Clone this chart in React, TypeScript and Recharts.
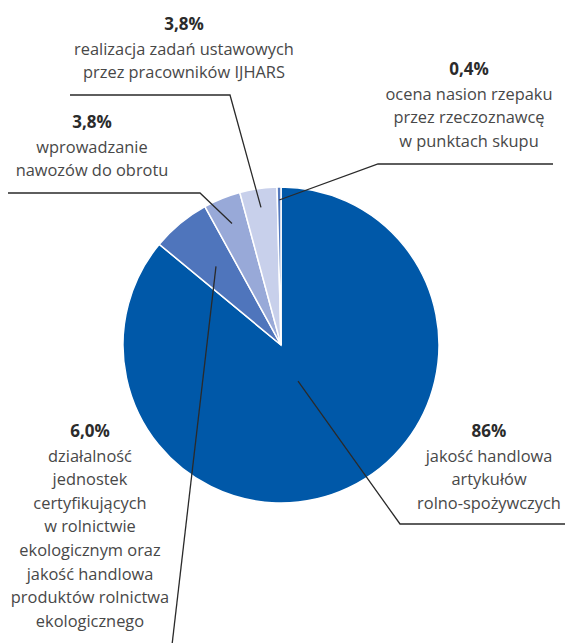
import { PieChart, Pie, Cell } from "recharts"

// shares of controls (%), clockwise from 12 o'clock
const categories = [
  "jakość handlowa artykułów rolno-spożywczych",
  "działalność jednostek certyfikujących w rolnictwie ekologicznym oraz jakość handlowa produktów rolnictwa ekologicznego",
  "wprowadzanie nawozów do obrotu",
  "realizacja zadań ustawowych przez pracowników IJHARS",
  "ocena nasion rzepaku przez rzeczoznawcę w punktach skupu",
]
const shares = [86, 6.0, 3.8, 3.8, 0.4]
const shareLabels = ["86%", "6,0%", "3,8%", "3,8%", "0,4%"]
const labelLines = [
  ["jakość handlowa", "artykułów", "rolno-spożywczych"],
  ["działalność", "jednostek", "certyfikujących", "w rolnictwie", "ekologicznym oraz", "jakość handlowa", "produktów rolnictwa", "ekologicznego"],
  ["wprowadzanie", "nawozów do obrotu"],
  ["realizacja zadań ustawowych", "przez pracowników IJHARS"],
  ["ocena nasion rzepaku", "przez rzeczoznawcę", "w punktach skupu"],
]
const colors = ["#0058a8", "#4f75bc", "#98a9d8", "#c8d0eb", "#5479be"]

// label placement, relative to the pie centre
const labelLayout = [
  { r: 40, elbow: [119, 179], end: [290, 179], tx: 208, ty: 92 },
  { r: 102, elbow: null, end: [-109, 300], tx: -191, ty: 92 },
  { r: 131, elbow: [-81, -152], end: [-273, -152], tx: -189, ty: -217 },
  { r: 139, elbow: [-51, -250], end: [-211, -250], tx: -97, ty: -315 },
  { r: 145, elbow: [97, -181], end: [272, -181], tx: 188, ty: -270 },
]

const data = categories.map((name, i) => ({ name, value: shares[i] }))

const FONT = "'Open Sans', 'Noto Sans', sans-serif"
const RAD = Math.PI / 180

function SliceLabel(props: any) {
  const { cx, cy, midAngle, index } = props
  const l = labelLayout[index]
  const sx = cx + l.r * Math.cos(-midAngle * RAD)
  const sy = cy + l.r * Math.sin(-midAngle * RAD)
  const pts = [[sx, sy]]
  if (l.elbow) pts.push([cx + l.elbow[0], cy + l.elbow[1]])
  pts.push([cx + l.end[0], cy + l.end[1]])
  const tx = cx + l.tx
  const ty = cy + l.ty
  return (
    <g>
      <polyline
        points={pts.map((p) => p.join(",")).join(" ")}
        fill="none"
        stroke="#2a2a2a"
        strokeWidth={1.3}
      />
      <text x={tx} y={ty} textAnchor="middle" fontFamily={FONT} fontSize={17} fontWeight={700} fill="#2b2b2b">
        {shareLabels[index]}
      </text>
      {labelLines[index].map((line, j) => (
        <text
          key={j}
          x={tx}
          y={ty + 24.5 + j * 23.6}
          textAnchor="middle"
          fontFamily={FONT}
          fontSize={16.4}
          fill="#484848"
        >
          {line}
        </text>
      ))}
    </g>
  )
}

export default function App() {
  return (
    <div style={{ position: "absolute", left: 0, top: 0, width: 565, height: 643, background: "#fff" }}>
      <PieChart width={565} height={643} margin={{ top: 0, right: 0, bottom: 0, left: 0 }}>
        <Pie
          data={data}
          dataKey="value"
          nameKey="name"
          cx={281}
          cy={345}
          outerRadius={158}
          startAngle={90}
          endAngle={-270}
          stroke="#ffffff"
          strokeWidth={1.5}
          label={SliceLabel}
          labelLine={false}
          isAnimationActive={false}
        >
          {data.map((_, i) => (
            <Cell key={`cell-${i}`} fill={colors[i]} />
          ))}
        </Pie>
      </PieChart>
    </div>
  )
}
